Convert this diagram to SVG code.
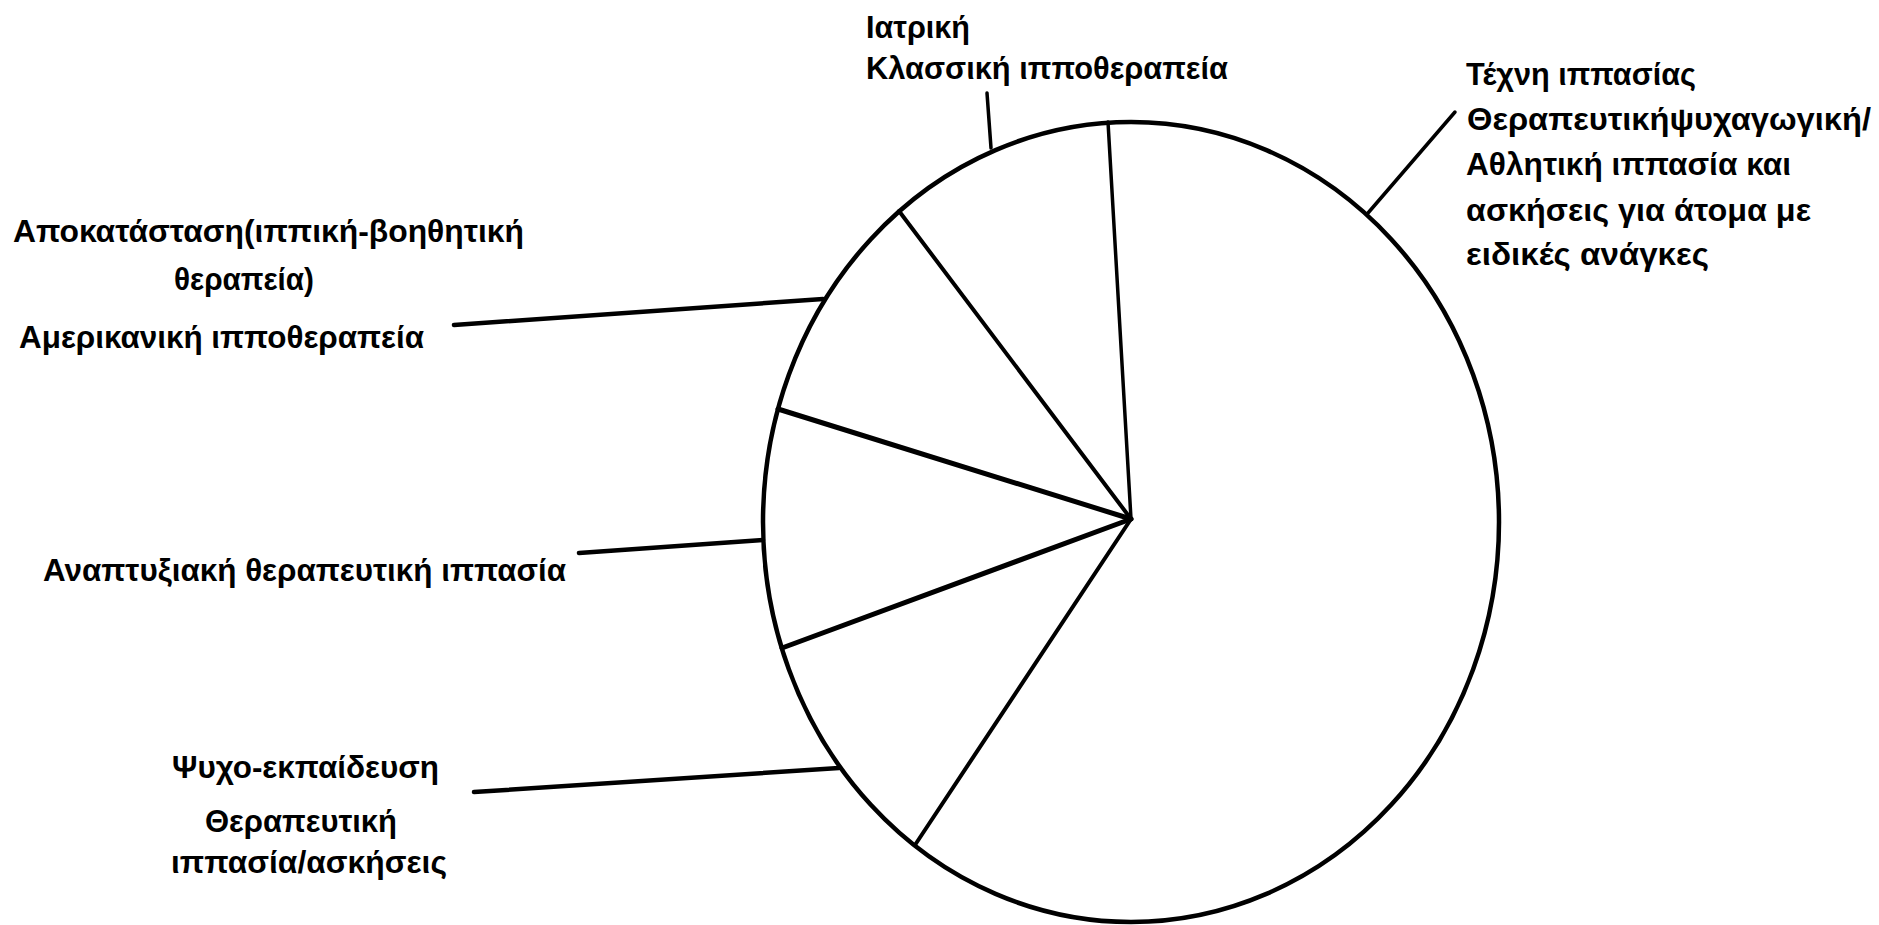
<svg xmlns="http://www.w3.org/2000/svg" width="1879" height="925" viewBox="0 0 1879 925">
<style>
  .lbl { font-family: "Liberation Sans", Arial, sans-serif; font-weight: bold; font-size: 32px; fill: #000; }
  .edge { stroke: #000; stroke-linecap: round; fill: none; }
</style>
<rect width="1879" height="925" fill="#fff"/>
<g id="pie">
  <ellipse cx="1131" cy="522" rx="368" ry="400" fill="#fff" stroke="#000" stroke-width="4.5"/>
</g>
<g id="connectors">
  <line class="edge" x1="1131" y1="519" x2="1108" y2="122" stroke-width="3.5"/>
  <line class="edge" x1="1131" y1="519" x2="899" y2="211" stroke-width="4"/>
  <line class="edge" x1="1131" y1="519" x2="778" y2="409" stroke-width="5"/>
  <line class="edge" x1="1131" y1="519" x2="782" y2="648" stroke-width="5"/>
  <line class="edge" x1="1131" y1="519" x2="915" y2="845" stroke-width="4"/>
  <line class="edge" x1="987" y1="93" x2="991" y2="148" stroke-width="3.5"/>
  <line class="edge" x1="1368" y1="213" x2="1455" y2="112" stroke-width="3.5"/>
  <line class="edge" x1="454" y1="325" x2="823" y2="299" stroke-width="4.5"/>
  <line class="edge" x1="579" y1="553" x2="763" y2="540" stroke-width="4.5"/>
  <line class="edge" x1="474" y1="792" x2="839" y2="768" stroke-width="4.5"/>
</g>
<g id="label-top">
  <text class="lbl" x="866" y="38" textLength="104" lengthAdjust="spacingAndGlyphs">Ιατρική</text>
  <text class="lbl" x="866" y="79" textLength="362" lengthAdjust="spacingAndGlyphs">Κλασσική ιπποθεραπεία</text>
</g>
<g id="label-right">
  <text class="lbl" x="1466" y="85" textLength="230" lengthAdjust="spacingAndGlyphs">Τέχνη ιππασίας</text>
  <text class="lbl" x="1467" y="130" textLength="404" lengthAdjust="spacingAndGlyphs">Θεραπευτικήψυχαγωγική/</text>
  <text class="lbl" x="1466" y="175" textLength="325" lengthAdjust="spacingAndGlyphs">Αθλητική ιππασία και</text>
  <text class="lbl" x="1466" y="221" textLength="345" lengthAdjust="spacingAndGlyphs">ασκήσεις για άτομα με</text>
  <text class="lbl" x="1466" y="265" textLength="243" lengthAdjust="spacingAndGlyphs">ειδικές ανάγκες</text>
</g>
<g id="label-left-top">
  <text class="lbl" x="13" y="242" textLength="511" lengthAdjust="spacingAndGlyphs">Αποκατάσταση(ιππική-βοηθητική</text>
  <text class="lbl" x="174" y="290" textLength="140" lengthAdjust="spacingAndGlyphs">θεραπεία)</text>
  <text class="lbl" x="19" y="348" textLength="405" lengthAdjust="spacingAndGlyphs">Αμερικανική ιπποθεραπεία</text>
</g>
<g id="label-left-mid">
  <text class="lbl" x="43" y="581" textLength="523" lengthAdjust="spacingAndGlyphs">Αναπτυξιακή θεραπευτική ιππασία</text>
</g>
<g id="label-left-bottom">
  <text class="lbl" x="172" y="778" textLength="267" lengthAdjust="spacingAndGlyphs">Ψυχο-εκπαίδευση</text>
  <text class="lbl" x="205" y="832" textLength="192" lengthAdjust="spacingAndGlyphs">Θεραπευτική</text>
  <text class="lbl" x="171" y="873" textLength="276" lengthAdjust="spacingAndGlyphs">ιππασία/ασκήσεις</text>
</g>
</svg>
